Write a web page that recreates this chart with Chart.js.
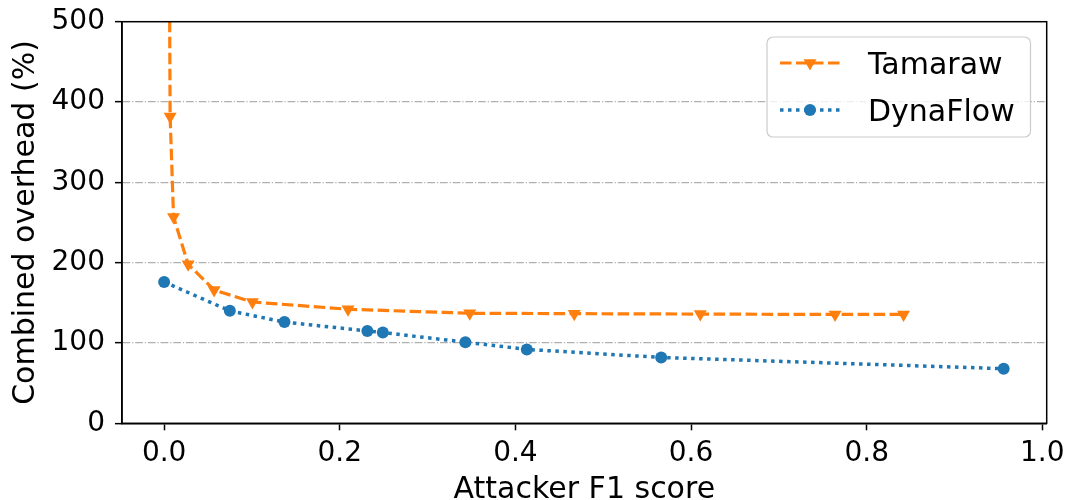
<!DOCTYPE html>
<html>
<head>
<meta charset="utf-8">
<script src="https://cdn.jsdelivr.net/npm/chart.js@4/dist/chart.umd.min.js"></script>
<style>
  html, body { margin: 0; padding: 0; background: #fff; }
  #wrap { width: 1068px; height: 500px; position: relative; }
</style>
</head>
<body>
<div id="wrap"><canvas id="c" width="1068" height="500"></canvas></div>
<script>
// ---- data ----
const tamarawX = [0.005, 0.0068, 0.0107, 0.0273, 0.0569, 0.1005, 0.2094, 0.348, 0.467, 0.6105, 0.764, 0.842];
const tamarawY = [800, 382, 257, 198, 166, 151, 142, 137, 136.5, 136, 135.5, 135.5];
const dynaX = [0.0, 0.0748, 0.137, 0.2314, 0.249, 0.343, 0.413, 0.566, 0.956];
const dynaY = [176, 140, 126, 115, 113, 101, 92, 82, 68];
const xTicks = [0.0, 0.2, 0.4, 0.6, 0.8, 1.0];
const yTicks = [0, 100, 200, 300, 400, 500];
const seriesNames = ['Tamaraw', 'DynaFlow'];
const xTitle = 'Attacker F1 score';
const yTitle = 'Combined overhead (%)';

const ORANGE = '#ff7f0e', BLUE = '#1f77b4';
const FONT = "'DejaVu Sans', 'Liberation Sans', sans-serif";

const toPts = (xs, ys) => xs.map((x, i) => ({ x: x, y: ys[i] }));

const styles = [
  { color: ORANGE, width: 3.2, dash: [11.5, 4.5], pointStyle: 'triangle', rotation: 180, radius: 7.5 },
  { color: BLUE, width: 3.5, dash: [3.5, 4.5], pointStyle: 'circle', rotation: 0, radius: 6 }
];

const framePlugin = {
  id: 'frame',
  afterDraw(chart) {
    const ctx = chart.ctx, a = chart.chartArea;
    ctx.save();
    ctx.strokeStyle = '#000';
    ctx.lineWidth = 1.5;
    ctx.strokeRect(a.left, a.top, a.right - a.left, a.bottom - a.top);

    // legend
    const bx = 767, by = 37, bw = 263.5, bh = 100, r = 6;
    ctx.beginPath();
    ctx.moveTo(bx + r, by);
    ctx.arcTo(bx + bw, by, bx + bw, by + bh, r);
    ctx.arcTo(bx + bw, by + bh, bx, by + bh, r);
    ctx.arcTo(bx, by + bh, bx, by, r);
    ctx.arcTo(bx, by, bx + bw, by, r);
    ctx.closePath();
    ctx.fillStyle = 'rgba(255,255,255,0.8)';
    ctx.fill();
    ctx.strokeStyle = '#cccccc';
    ctx.lineWidth = 1.2;
    ctx.stroke();

    const rows = [63, 110];
    seriesNames.forEach((name, i) => {
      const s = styles[i], y = rows[i];
      ctx.save();
      ctx.strokeStyle = s.color;
      ctx.lineWidth = s.width;
      ctx.setLineDash(s.dash);
      ctx.beginPath();
      ctx.moveTo(780, y);
      ctx.lineTo(840, y);
      ctx.stroke();
      ctx.restore();
      ctx.save();
      ctx.fillStyle = s.color;
      ctx.strokeStyle = s.color;
      ctx.lineWidth = 0;
      Chart.helpers.drawPoint(ctx, {
        pointStyle: s.pointStyle, rotation: s.rotation, radius: s.radius, borderWidth: 0
      }, 810, y);
      ctx.restore();
      ctx.fillStyle = '#000';
      ctx.font = '30px ' + FONT;
      ctx.textBaseline = 'alphabetic';
      ctx.textAlign = 'left';
      ctx.fillText(name, 868, y + 11);
    });
    ctx.restore();
  }
};

new Chart(document.getElementById('c'), {
  type: 'line',
  data: {
    datasets: [
      {
        label: seriesNames[0],
        data: toPts(tamarawX, tamarawY),
        borderColor: ORANGE, backgroundColor: ORANGE,
        borderWidth: styles[0].width, borderDash: styles[0].dash,
        pointStyle: 'triangle', rotation: 180, pointRadius: styles[0].radius,
        pointBorderWidth: 0, pointBackgroundColor: ORANGE,
        tension: 0, fill: false
      },
      {
        label: seriesNames[1],
        data: toPts(dynaX, dynaY),
        borderColor: BLUE, backgroundColor: BLUE,
        borderWidth: styles[1].width, borderDash: styles[1].dash,
        pointStyle: 'circle', pointRadius: styles[1].radius,
        pointBorderWidth: 0, pointBackgroundColor: BLUE,
        tension: 0, fill: false
      }
    ]
  },
  options: {
    responsive: false,
    animation: false,
    devicePixelRatio: 1,
    layout: { padding: { left: 0, right: 21.3, top: 21.7, bottom: 0 } },
    plugins: { legend: { display: false }, tooltip: { enabled: false } },
    scales: {
      x: {
        type: 'linear',
        min: -0.048, max: 1.005,
        afterBuildTicks: (s) => { s.ticks = xTicks.map(v => ({ value: v })); },
        afterFit: (s) => { s.height = 76.7; s.paddingLeft = 0; s.paddingRight = 0; },
        ticks: {
          color: '#000', padding: 7,
          font: { family: FONT, size: 28 },
          callback: (v) => Number(v).toFixed(1),
          maxRotation: 0, autoSkip: false
        },
        grid: { drawOnChartArea: false, drawTicks: true, tickLength: 7, tickColor: '#000', tickWidth: 1.5 },
        border: { display: true, color: '#000', width: 1.5 },
        title: {
          display: true, text: xTitle, color: '#000',
          font: { family: FONT, size: 30, lineHeight: 1 },
          padding: { top: 0, bottom: -5 }
        }
      },
      y: {
        type: 'linear',
        min: 0, max: 500,
        afterBuildTicks: (s) => { s.ticks = yTicks.map(v => ({ value: v })); },
        afterFit: (s) => { s.width = 122; s.paddingTop = 0; s.paddingBottom = 0; },
        ticks: {
          color: '#000', padding: 10,
          font: { family: FONT, size: 28 },
          callback: (v) => String(v)
        },
        grid: {
          drawOnChartArea: true, drawTicks: true, tickLength: 7,
          tickColor: '#000', tickWidth: 1.5,
          color: (c) => (c.tick && (c.tick.value === 0 || c.tick.value === 500)) ? 'rgba(0,0,0,0)' : '#b0b0b0',
          lineWidth: 1.3
        },
        border: { display: true, color: '#000', width: 1.5, dash: [7.7, 1.9, 1.2, 1.9] },
        title: {
          display: true, text: yTitle, color: '#000',
          font: { family: FONT, size: 30, lineHeight: 1.2 },
          padding: { top: 8.5, bottom: 0 }
        }
      }
    }
  },
  plugins: [framePlugin]
});
</script>
</body>
</html>
